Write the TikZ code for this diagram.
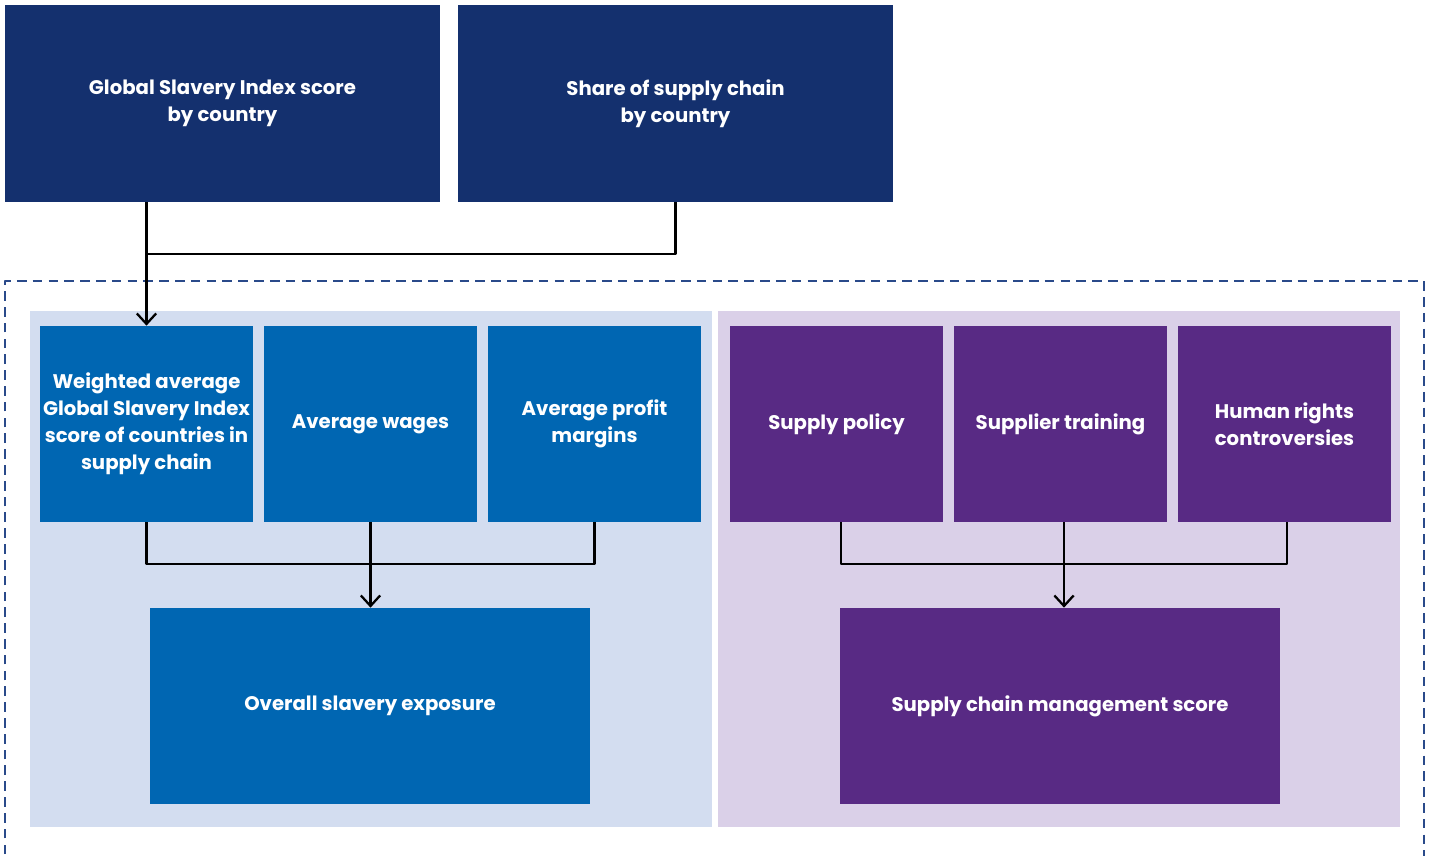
\documentclass[tikz,border=0pt]{standalone}
\usepackage{fontspec}
\setmainfont{Poppins}
\usetikzlibrary{arrows.meta}
\definecolor{navy}{HTML}{14306E}
\definecolor{midblue}{HTML}{0066B2}
\definecolor{paleblue}{HTML}{D3DDF0}
\definecolor{violet}{HTML}{582A84}
\definecolor{palevio}{HTML}{DAD0E8}
\definecolor{dashblue}{HTML}{2A4A8A}
\tikzset{
  box/.style={rectangle, inner sep=2pt, align=center, text=white,
    font=\fontsize{11.2}{15.3}\selectfont\bfseries},
  topbox/.style={box, fill=navy, minimum width=8.7cm, minimum height=3.94cm},
  smallbox/.style={box, minimum width=4.26cm, minimum height=3.92cm},
  bigbox/.style={box, minimum width=8.8cm, minimum height=3.92cm},
  panel/.style={rectangle, minimum width=13.64cm, minimum height=10.32cm},
  link/.style={line width=1.3pt},
}
\begin{document}
\begin{tikzpicture}[x=0.02cm, y=-0.02cm, line join=round, >={Straight Barb[length=6pt,width=11pt]}]
	\useasboundingbox (0,0) rectangle (1429,855);
	\begin{scope}
		\clip (0,0) rectangle (1429,855);
		\draw[dashblue, dash pattern=on 5.5pt off 3.5pt, line width=1.2pt] (5,870)--(5,281)--(1424,281)--(1424,870);
	\end{scope}
	\node[panel, fill=paleblue] (blueside) at (371,569) {};
	\node[panel, fill=palevio] (violetside) at (1059,569) {};
	% inputs
	\node[topbox] (gsi) at (222.5,103.5) {Global Slavery Index score\\by country};
	\node[topbox] (share) at (675.5,103.5) {Share of supply chain\\by country};
	% exposure factors
	\node[smallbox, fill=midblue] (wavg) at (146.5,424) {Weighted average\\Global Slavery Index\\score of countries in\\supply chain};
	\node[smallbox, fill=midblue] (wages) at (370.5,424) {Average wages};
	\node[smallbox, fill=midblue] (profit) at (594.5,424) {Average profit\\margins};
	\node[bigbox, fill=midblue] (exposure) at (370,706) {Overall slavery exposure};
	% management factors
	\node[smallbox, fill=violet] (policy) at (836.5,424) {Supply policy};
	\node[smallbox, fill=violet] (training) at (1060.5,424) {Supplier training};
	\node[smallbox, fill=violet] (rights) at (1284.5,424) {Human rights\\controversies};
	\node[bigbox, fill=violet] (mgmt) at (1060,706) {Supply chain management score};
	% connectors
	\coordinate (topjoin) at (147,254);
	\draw[->, link] (gsi.south -| wavg.north) -- (wavg.north);
	\draw[link] (share.south) |- (topjoin);
	\coordinate (bluejoin) at (370.5,564);
	\coordinate (viojoin) at (1064,564);
	\draw[link] (wavg.south) |- (bluejoin) -| (profit.south);
	\draw[->, link] (wages.south) -- (exposure.north -| wages.south);
	\draw[link] ([xshift=0.09cm]policy.south) |- (viojoin) -| ([xshift=0.05cm]rights.south);
	\draw[->, link] (training.south -| viojoin) -- (mgmt.north -| viojoin);
\end{tikzpicture}
\end{document}
